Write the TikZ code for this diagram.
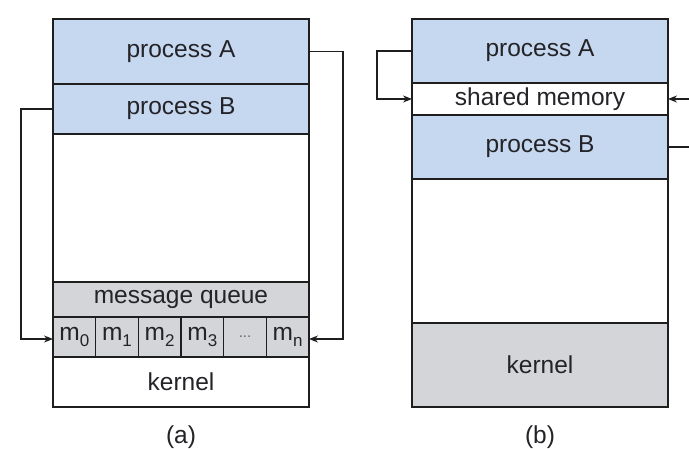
\documentclass[tikz,border=0pt]{standalone}
\usepackage{fontspec}
\setmainfont{Liberation Sans}
\usetikzlibrary{arrows.meta,calc}
\definecolor{procblue}{RGB}{198,216,240}
\definecolor{kgray}{RGB}{211,213,216}
\definecolor{txt}{RGB}{35,35,40}
\definecolor{edge}{RGB}{30,30,30}
\newcommand{\bandfont}{\fontsize{24.5}{28}\selectfont}
\newcommand{\msub}[1]{\raisebox{-0.22em}{\fontsize{17}{20}\selectfont #1}}
\tikzset{
  band/.style={draw=edge, line width=1.3pt, anchor=north west, inner sep=0pt,
    outer sep=0pt, minimum width=256pt, text=txt, font=\bandfont},
  cell/.style={draw=edge, line width=1.3pt, fill=kgray, anchor=north west,
    inner sep=0pt, outer sep=0pt, minimum width=42.667pt, minimum height=40pt,
    text=txt, font=\bandfont},
  link/.style={draw=edge, line width=1.4pt},
  arr/.style={link, -{Stealth[length=9pt,width=7pt]}},
  caption/.style={text=txt, font=\bandfont}
}
\begin{document}
\begin{tikzpicture}[x=1pt,y=-1pt]
\useasboundingbox (0,0) rectangle (689,449);
\clip (0,0) rectangle (689,449);
\fill[white] (0,0) rectangle (689,449);

% (a) message passing
\node[band, fill=white, minimum height=148pt] (aFree) at (53,134) {};
\node[band, fill=white, minimum height=50pt] (aK) at (53,357) {kernel};
\node[band, fill=procblue, minimum height=65pt] (aA) at (53,19) {process A};
\node[band, fill=procblue, minimum height=50pt] (aB) at (53,84) {process B};
\node[band, fill=kgray, minimum height=35pt] (aQ) at (53,282) {message queue};
\node[cell] (m0) at (53,317) {m\msub{0}};
\node[cell] (m1) at (95.667,317) {m\msub{1}};
\node[cell] (m2) at (138.333,317) {m\msub{2}};
\node[cell] (m3) at (181,317) {m\msub{3}};
\node[cell, text=txt!70, font=\fontsize{15}{18}\selectfont] (m4) at (223.667,317) {...};
\node[cell] (m5) at (266.333,317) {m\msub{n}};
\node[caption] (capA) at (181,437) {(a)};

\coordinate (aRight) at (343,0);
\coordinate (aLeft) at (21,0);
\draw[arr] (aA.east) -- (aA.east -| aRight) |- ([yshift=-2pt]m5.east);
\draw[arr] (aB.west) -- (aB.west -| aLeft) |- ([yshift=-2pt]m0.west);

% (b) shared memory
\node[band, fill=white, minimum height=144pt] (bFree) at (412,179) {};
\node[band, fill=procblue, minimum height=64pt] (bA) at (412,19) {process A};
\node[band, fill=white, minimum height=32pt] (bS) at (412,83) {shared memory};
\node[band, fill=procblue, minimum height=64pt] (bB) at (412,115) {process B};
\node[band, fill=kgray, minimum height=84pt] (bK) at (412,323) {kernel};
\node[caption] (capB) at (540,437) {(b)};

\coordinate (bLeft) at (377,0);
\coordinate (bRight) at (700,0);
\draw[arr] (bA.west) -- (bA.west -| bLeft) |- (bS.west);
\draw[arr] (bB.east) -- (bB.east -| bRight) |- (bS.east);
\end{tikzpicture}
\end{document}
